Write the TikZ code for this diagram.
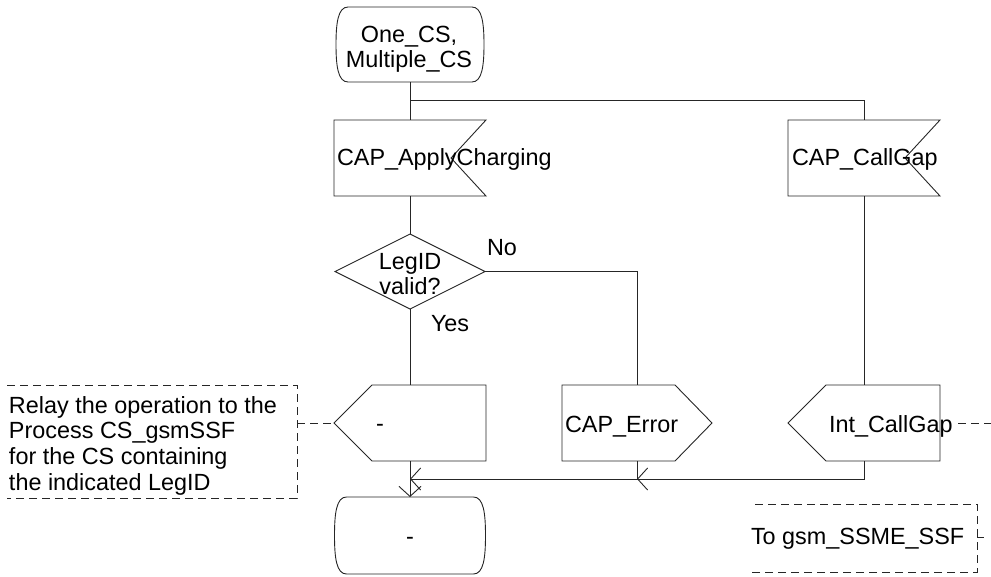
\documentclass[tikz,border=0pt]{standalone}
\usepackage{fontspec}
\setmainfont{Liberation Sans}
\usetikzlibrary{arrows.meta}
\newcommand\termoutline[1]{%
 \draw[ln] ([xshift=12pt]#1.north west) -- ([xshift=-12pt]#1.north east)
  .. controls ([xshift=-2pt]#1.north east) and ([yshift=-16pt]#1.north east) .. (#1.east)
  .. controls ([yshift=16pt]#1.south east) and ([xshift=-2pt]#1.south east) .. ([xshift=-12pt]#1.south east)
  -- ([xshift=12pt]#1.south west)
  .. controls ([xshift=2pt]#1.south west) and ([yshift=16pt]#1.south west) .. (#1.west)
  .. controls ([yshift=-16pt]#1.north west) and ([xshift=2pt]#1.north west) .. ([xshift=12pt]#1.north west) -- cycle;}
\newcommand\inoutline[1]{\draw[ln] (#1.north west) -- (#1.north east) -- ([xshift=-35pt]#1.east) -- (#1.south east) -- (#1.south west) -- cycle;}
\newcommand\leftoutline[1]{\draw[ln] (#1.west) -- ([xshift=38pt]#1.north west) -- (#1.north east) -- (#1.south east) -- ([xshift=38pt]#1.south west) -- cycle;}
\newcommand\rightoutline[1]{\draw[ln] (#1.north west) -- ([xshift=-37pt]#1.north east) -- (#1.east) -- ([xshift=-37pt]#1.south east) -- (#1.south west) -- cycle;}
\newcommand\diamoutline[1]{\draw[ln] (#1.north) -- (#1.east) -- (#1.south) -- (#1.west) -- cycle;}
\begin{document}
\begin{tikzpicture}[x=1pt,y=-1pt,
  every node/.style={font=\fontsize{23.4}{25.6}\selectfont, inner sep=0pt, outer sep=0pt},
  shp/.style 2 args={minimum width=#1, minimum height=#2},
  ln/.style={line width=0.9pt, draw=black!85},
  cmt/.style={line width=0.9pt, draw=black!85, dash pattern=on 8pt off 5pt},
  arr/.style={ln, -{Straight Barb[length=10pt,width=22pt,line width=0.9pt]}},
  txt/.style={anchor=base west},
]
\useasboundingbox (0,0) rectangle (991,576);

% shapes
\node[shp={148pt}{75pt}] (start) at (410,44.5) {};
\node[shp={152pt}{76pt}] (ac) at (410,158) {};
\node[shp={152pt}{76pt}] (cg) at (864,158) {};
\node[shp={150pt}{75pt}] (dec) at (410,271.5) {};
\node[shp={152pt}{76pt}] (out) at (410,423) {};
\node[shp={150pt}{76pt}] (err) at (637,423) {};
\node[shp={152pt}{76pt}] (ig) at (864,423) {};
\node[shp={151pt}{77pt}] (end) at (410,535.5) {};

\termoutline{start}
\inoutline{ac}
\inoutline{cg}
\diamoutline{dec}
\leftoutline{out}
\rightoutline{err}
\leftoutline{ig}
\termoutline{end}

% texts
\node[align=center] (startT) at (409,49.4) {One\_CS,\\Multiple\_CS};
\node[txt] (acT) at (337,165.5) {CAP\_ApplyCharging};
\node[txt] (cgT) at (792,165.5) {CAP\_CallGap};
\node[align=center] (decT) at (410,274.2) {LegID\\valid?};
\node[txt] (noT) at (487,255) {No};
\node[txt] (yesT) at (431,331) {Yes};
\node[anchor=base] (outT) at (380,431) {-};
\node[txt] (errT) at (565,432) {CAP\_Error};
\node[txt] (igT) at (829,432) {Int\_CallGap};
\node[anchor=base] (endT) at (410,544) {-};
\node[anchor=west, align=left] (relayT) at (9,445.6) {Relay the operation to the\\Process CS\_gsmSSF\\for the CS containing\\the indicated LegID};
\node[txt] (togsmT) at (751,544) {To gsm\_SSME\_SSF};

% connectors
\coordinate (br) at (410,100);
\coordinate (j1) at (410,479);
\coordinate (j2) at (637,479);
\draw[ln] (start.south) -- (ac.north);
\draw[ln] (br) -| (cg.north);
\draw[ln] (ac.south) -- (dec.north);
\draw[ln] (dec.east) -| (err.north);
\draw[ln] (dec.south) -- (out.north);
\draw[ln] (cg.south) -- (ig.north);
\draw[arr] (out.south) -- (end.north);
\draw[arr] (err.south) |- (j1);
\draw[arr] (ig.south) |- (j2);

% comments
\coordinate (c1tl) at (7,385);
\coordinate (c1tr) at (297,385);
\coordinate (c1br) at (297,498);
\coordinate (c1bl) at (7,498);
\draw[cmt] (c1tl) -- (c1tr) -- (c1br) -- (c1bl);
\draw[cmt] (c1tr |- out.west) -- (out.west);
\coordinate (c2tl) at (755,504);
\coordinate (c2tr) at (977,504);
\coordinate (c2br) at (977,572);
\coordinate (c2bl) at (750,572);
\coordinate (c2m) at (977,537);
\coordinate (c2t) at (984,537);
\draw[cmt] (c2tl) -- (c2tr) -- (c2br) -- (c2bl);
\draw[ln] (c2m) -- (c2t);
\coordinate (igr) at (991,423);
\draw[cmt] ([xshift=18pt]ig.east) -- (igr);
\end{tikzpicture}
\end{document}
